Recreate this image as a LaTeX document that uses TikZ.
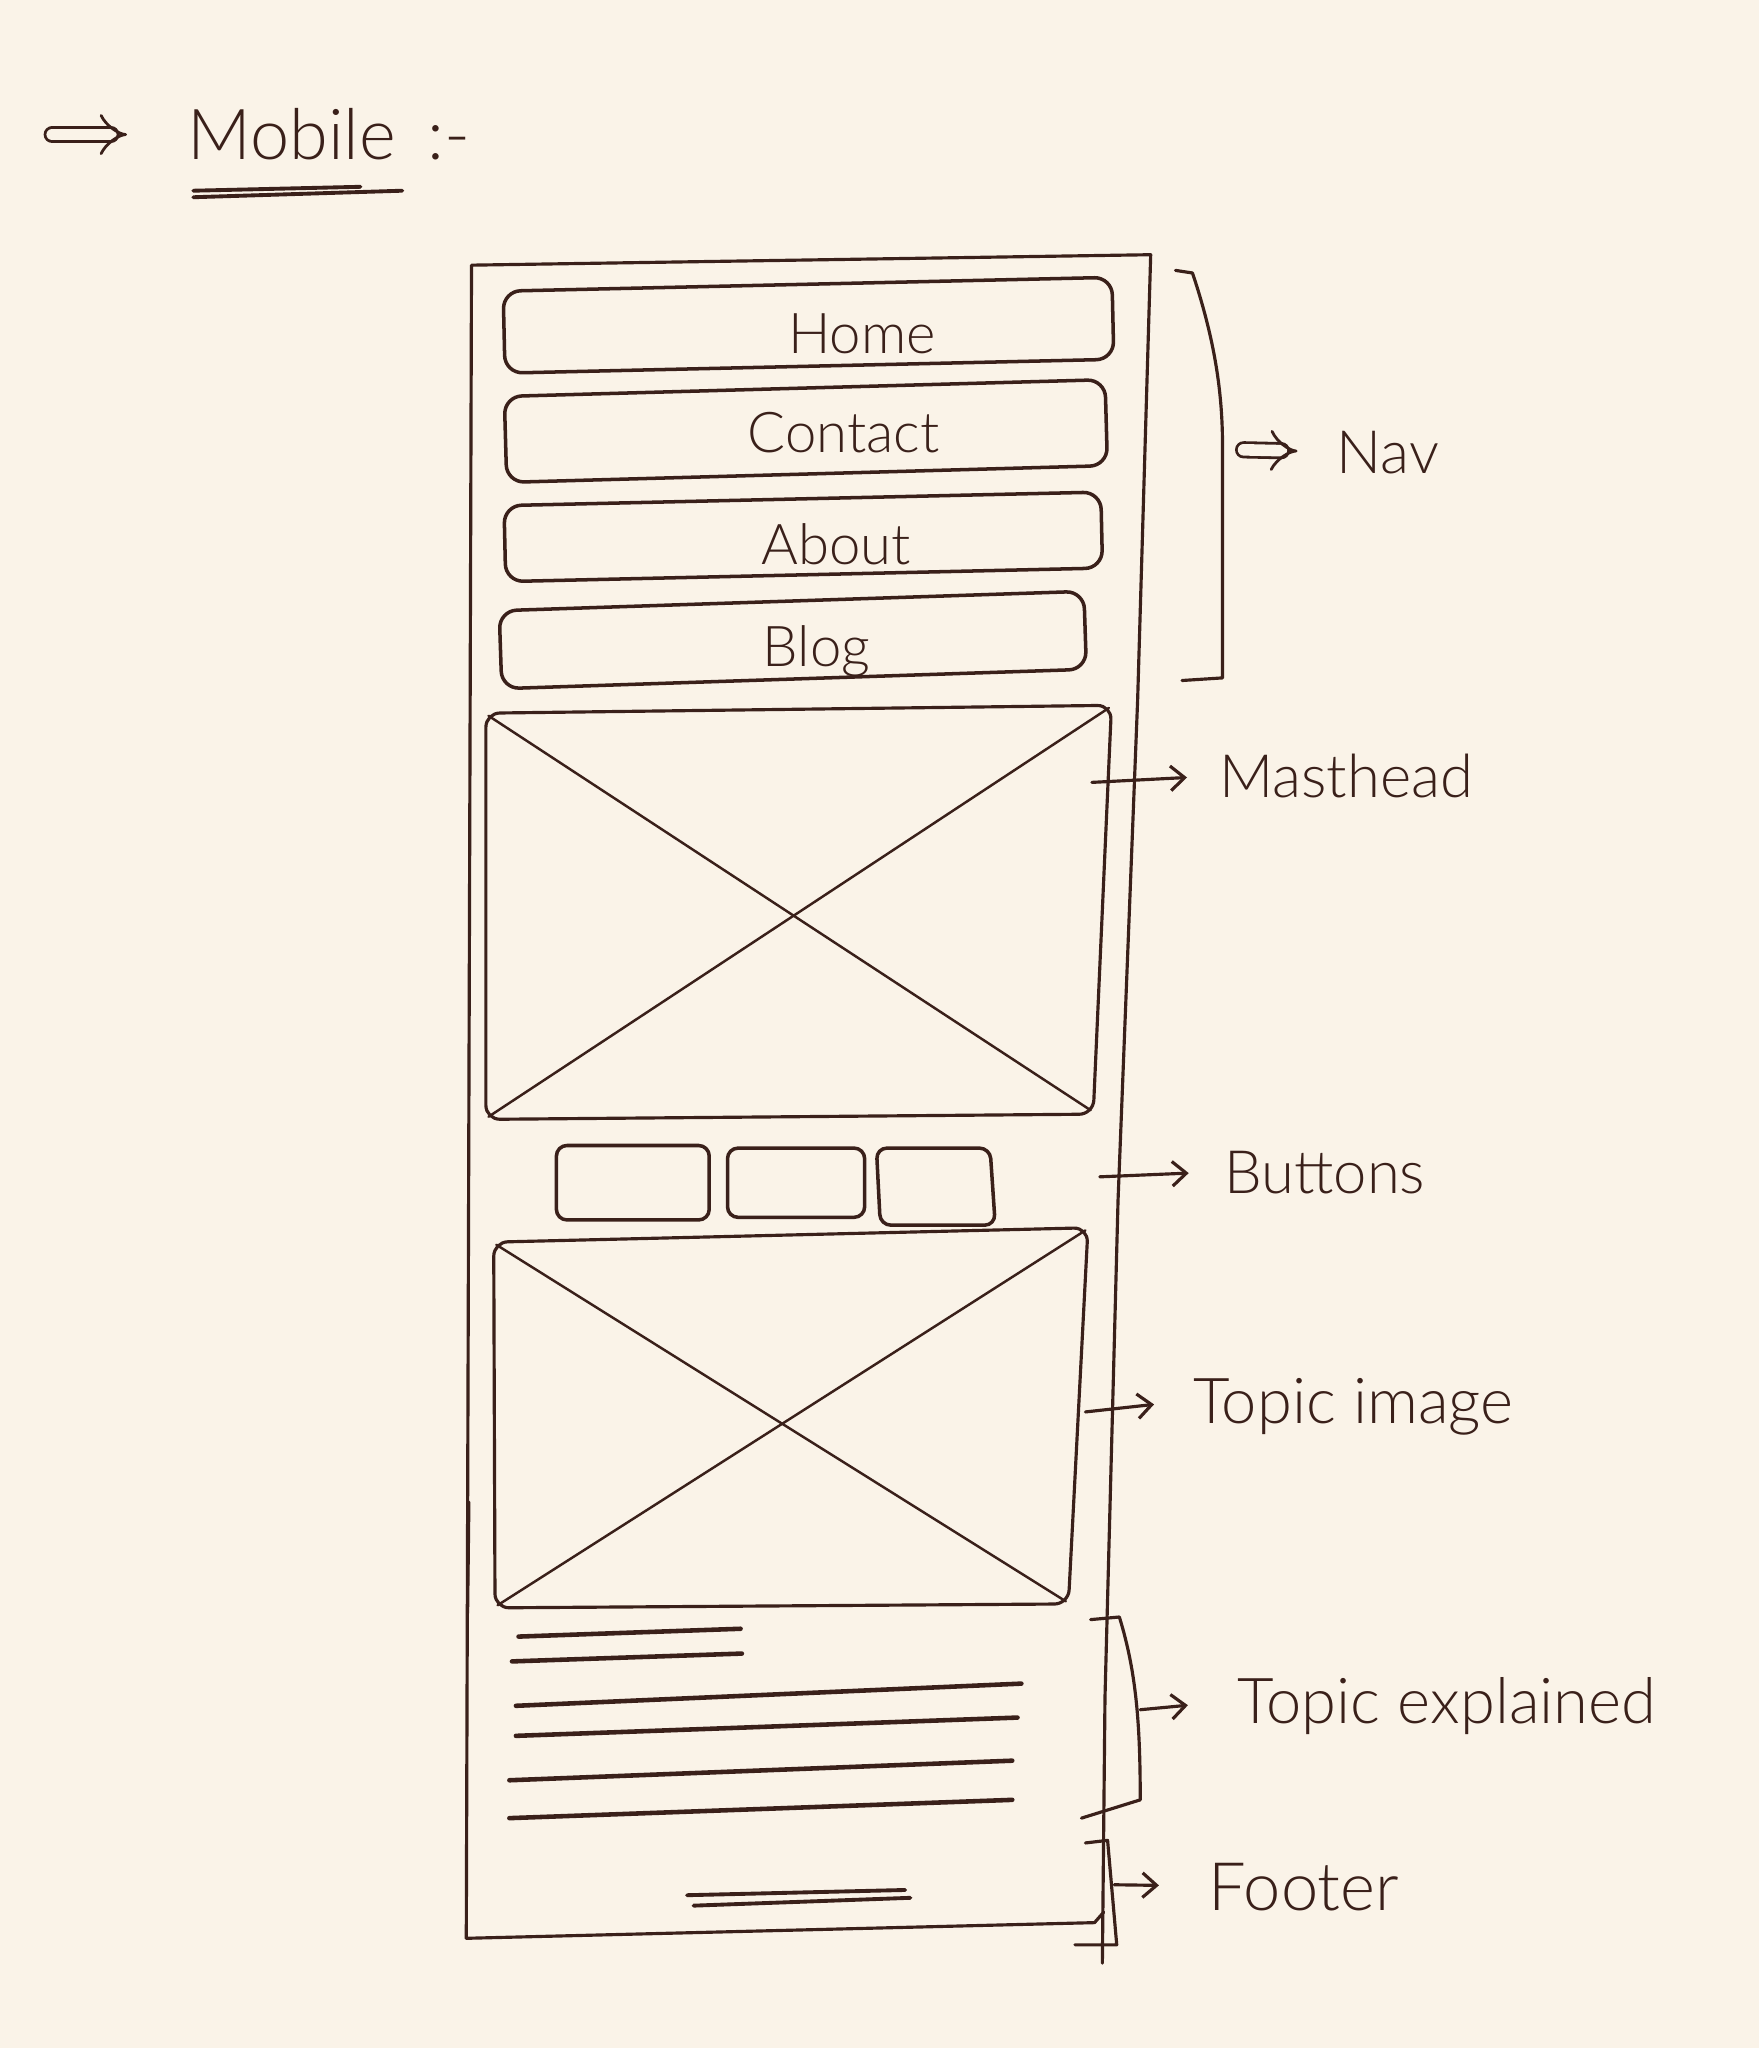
\documentclass[tikz,border=0pt]{standalone}
\usepackage{fontspec}
\setmainfont{Lato Light}
\usetikzlibrary{arrows.meta,positioning}
\definecolor{carta}{RGB}{250,243,232}
\definecolor{inchiostro}{RGB}{58,32,26}

\begin{document}
\begin{tikzpicture}[x=0.01306cm, y=-0.01306cm, line cap=round, line join=round]
    % Stili
    \tikzstyle{ink}=[draw=inchiostro, line width=0.9pt]
    \tikzstyle{thinink}=[draw=inchiostro, line width=0.7pt]
    \tikzstyle{textline}=[draw=inchiostro, line width=1.3pt]
    \tikzstyle{navbox}=[rectangle, rounded corners=5pt, draw=inchiostro, line width=1pt]
    \tikzstyle{btn}=[ink, line width=1pt, rounded corners=3pt]
    \tikzstyle{handtext}=[inner sep=0pt, text depth=0pt, text=inchiostro]
    \tikzstyle{navtxt}=[handtext, font=\fontsize{16}{19}\selectfont, text height=11.5pt]
    \tikzstyle{tag}=[handtext, anchor=west, font=\fontsize{17}{20}\selectfont, text height=12.2pt]
    \tikzstyle{arrow}=[-{Straight Barb[length=4pt,width=7pt]}, ink]
    \tikzstyle{dblarrow}=[double=carta, double distance=3.3pt, -{Implies[scale=1.5]}, draw=inchiostro, line width=0.8pt]

    % Sfondo
    \fill[carta] (0,0) rectangle (1347,1568);

    % Titolo
    \node[tag, font=\fontsize{20}{24}\selectfont, text height=14.4pt] (mobile) at (143,103) {Mobile};
    \node[tag, font=\fontsize{20}{24}\selectfont, text height=14.4pt, right=0.3cm of mobile] (colon) {:-};
    \coordinate (mobStart) at (40,103);
    \draw[ink, line width=1.1pt] (148,146) -- (276,143);
    \draw[ink, line width=1.1pt] (148,151) -- (308,146);

    % Cornice del telefono
    \draw[ink] (357,1484) -- (361,203) -- (881,195) -- (871,536) -- (856,919) -- (846,1300) -- (844,1503);
    \draw[ink] (357,1484) -- (838,1472) -- (845,1464);
    \draw[ink] (359,1150) -- (358,1235);

    % Nav
    \node[navbox, minimum width=6.09cm, minimum height=0.82cm, rotate=1.3] (home) at (619,249) {};
    \node[navbox, minimum width=6.01cm, minimum height=0.86cm, rotate=1.6] (contact) at (617,330) {};
    \node[navbox, minimum width=5.97cm, minimum height=0.76cm, rotate=1.3] (about) at (615,411) {};
    \node[navbox, minimum width=5.85cm, minimum height=0.78cm, rotate=1.9] (blog) at (607,490) {};
    \node[navtxt] (homeTxt) at (660,255) {Home};
    \node[navtxt] (contactTxt) at (646,331) {Contact};
    \node[navtxt] (aboutTxt) at (640,417) {About};
    \node[navtxt] (blogTxt) at (625,495) {Blog};

    % Masthead
    \draw[ink, rounded corners=4pt] (372,546) -- (851,540) -- (837,853) -- (372,857) -- cycle;
    \draw[thinink] (374,548) -- (835,850);
    \draw[thinink] (849,542) -- (374,855);

    % Bottoni
    \draw[btn] (426,877) rectangle (543,934);
    \draw[btn] (557,879) rectangle (662,932);
    \draw[btn] (671,879) -- (758,879) -- (762,938) -- (674,938) -- cycle;

    % Immagine
    \draw[ink, rounded corners=4pt] (378,951) -- (833,940) -- (818,1228) -- (379,1231) -- cycle;
    \draw[thinink] (380,953) -- (816,1226);
    \draw[thinink] (831,942) -- (381,1229);

    % Testo
    \draw[textline] (397,1253) -- (567,1247);
    \draw[textline] (392,1272) -- (568,1266);
    \draw[textline] (395,1306) -- (782,1289);
    \draw[textline] (395,1329) -- (779,1315);
    \draw[textline] (390,1363) -- (775,1348);
    \draw[textline] (390,1392) -- (775,1378);

    % Footer
    \draw[textline, line width=1.1pt] (526,1451) -- (693,1447);
    \draw[textline, line width=1.1pt] (531,1459) -- (697,1453);

    % Parentesi
    \draw[ink] (900,207) -- (913,209) .. controls (930,260) and (936,300) .. (936,342) -- (936,519) -- (905,521);
    \draw[ink] (835,1240) -- (857,1238) .. controls (870,1280) and (873,1320) .. (873,1378) -- (828,1392);
    \draw[ink] (831,1411) -- (848,1409) -- (855,1489) -- (823,1489);
    \coordinate (navMid) at (936,344);
    \coordinate (mastStart) at (836,599);
    \coordinate (btnStart) at (842,901);
    \coordinate (imgStart) at (831,1081);
    \coordinate (explMid) at (873,1309);
    \coordinate (footMid) at (853,1443);

    % Etichette
    \node[tag] (nav) at (1023,346) {Nav};
    \node[tag] (masthead) at (933,594) {Masthead};
    \node[tag] (buttons) at (937,897) {Buttons};
    \node[tag, font=\fontsize{18}{21}\selectfont, text height=13pt] (topicImg) at (913,1072) {Topic image};
    \node[tag, font=\fontsize{18}{21}\selectfont, text height=13pt] (topicExpl) at (947,1302) {Topic explained};
    \node[tag, font=\fontsize{19}{22}\selectfont, text height=13.7pt] (footer) at (925,1444) {Footer};

    % Collegamenti
    \draw[dblarrow, shorten >=17pt] (mobStart) -- (mobile.west);
    \draw[dblarrow, shorten <=6pt, shorten >=11pt] (navMid) -- (nav.west);
    \draw[arrow, shorten >=9pt] (mastStart) -- (masthead.west);
    \draw[arrow, shorten >=10pt] (btnStart) -- (buttons.west);
    \draw[arrow, shorten >=11pt] (imgStart) -- (topicImg.west);
    \draw[arrow, shorten >=14pt] (explMid) -- (topicExpl.west);
    \draw[arrow, shorten >=14pt] (footMid) -- (footer.west);
\end{tikzpicture}
\end{document}
